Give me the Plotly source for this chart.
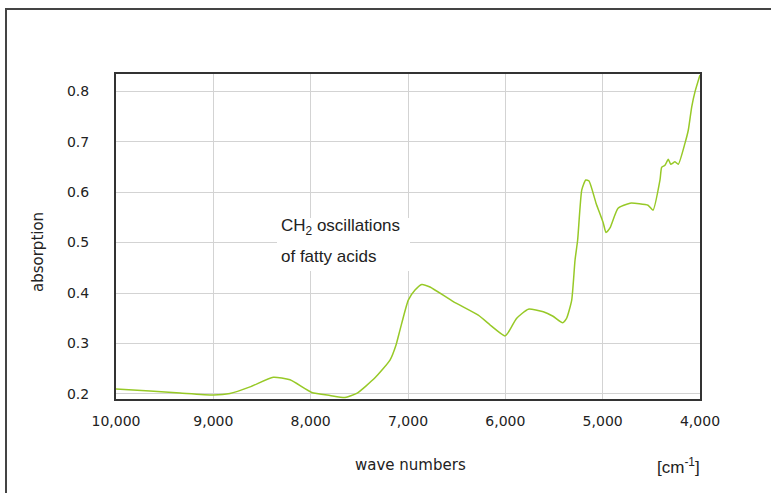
import plotly.graph_objects as go

wavenumbers = [10000, 9651, 9342, 9000, 8829, 8623, 8384, 8212, 7989, 7801, 7647, 7527,
               7339, 7185, 7123, 7082, 6997, 6928, 6859, 6774, 6535, 6278, 6158, 6055,
               6003, 5973, 5883, 5764, 5610, 5510, 5411, 5370, 5318, 5284, 5257, 5215,
               5174, 5140, 5068, 4994, 4966, 4925, 4842, 4719, 4534, 4483, 4411, 4394,
               4360, 4326, 4301, 4257, 4223, 4154, 4120, 4085, 4051, 4000]
absorption = [0.210, 0.206, 0.202, 0.198, 0.201, 0.214, 0.233, 0.228, 0.203, 0.197, 0.193, 0.201,
              0.232, 0.267, 0.297, 0.327, 0.386, 0.406, 0.417, 0.412, 0.383, 0.356, 0.337, 0.321,
              0.315, 0.321, 0.350, 0.368, 0.363, 0.354, 0.341, 0.350, 0.386, 0.465, 0.505, 0.604,
              0.624, 0.622, 0.578, 0.539, 0.520, 0.529, 0.568, 0.578, 0.574, 0.564, 0.624, 0.649,
              0.653, 0.665, 0.655, 0.660, 0.655, 0.697, 0.723, 0.769, 0.799, 0.832]

x_ticks = [10000, 9000, 8000, 7000, 6000, 5000, 4000]
x_tick_labels = ["10,000", "9,000", "8,000", "7,000", "6,000", "5,000", "4,000"]
y_ticks = [0.2, 0.3, 0.4, 0.5, 0.6, 0.7, 0.8]
y_tick_labels = ["0.2", "0.3", "0.4", "0.5", "0.6", "0.7", "0.8"]

W, H = 771, 493
L, R, T, B = 116, 71, 74, 94

fig = go.Figure()
fig.add_trace(go.Scatter(x=wavenumbers, y=absorption, mode="lines",
                         line=dict(color="#97C927", width=1.5, shape="spline", smoothing=0.5),
                         hoverinfo="skip", showlegend=False))

tickfont = dict(family="DejaVu Sans, Verdana, sans-serif", size=14, color="#222")
fig.update_xaxes(range=[10000, 4000], tickvals=x_ticks, ticktext=x_tick_labels,
                 showgrid=True, gridcolor="#d3d3d3", gridwidth=1,
                 showline=True, linecolor="#333", linewidth=2, mirror=True,
                 ticks="", ticklabelstandoff=8, tickfont=tickfont, zeroline=False)
fig.update_yaxes(range=[0.19, 0.834], tickvals=y_ticks, ticktext=y_tick_labels,
                 showgrid=True, gridcolor="#d3d3d3", gridwidth=1,
                 showline=True, linecolor="#333", linewidth=2, mirror=True,
                 ticks="", ticklabelstandoff=22, tickfont=tickfont, zeroline=False)

def px(xp):
    return (xp - L) / (W - L - R)

def py(yp):
    return 1 - (yp - T) / (H - T - B)

annfont = dict(family="Liberation Sans, Arial, sans-serif", size=17, color="#222")
# white box behind annotation
fig.add_shape(type="rect", xref="paper", yref="paper",
              x0=px(277), x1=px(410), y0=py(271), y1=py(218),
              fillcolor="white", line=dict(width=0), layer="above")
fig.add_annotation(x=px(279), y=py(227), xref="paper", yref="paper", xanchor="left", yanchor="middle",
                   text="CH<sub>2</sub> oscillations", showarrow=False, font=annfont)
fig.add_annotation(x=px(279), y=py(256), xref="paper", yref="paper", xanchor="left", yanchor="middle",
                   text="of fatty acids", showarrow=False, font=annfont)

titlefont = dict(family="DejaVu Sans, Verdana, sans-serif", size=15, color="#222")
fig.add_annotation(x=px(38), y=py(252), xref="paper", yref="paper", textangle=-90,
                   xanchor="center", yanchor="middle",
                   text="absorption", showarrow=False, font=titlefont)
fig.add_annotation(x=px(410), y=py(465), xref="paper", yref="paper",
                   xanchor="center", yanchor="middle",
                   text="wave numbers", showarrow=False, font=titlefont)
fig.add_annotation(x=px(678), y=py(466), xref="paper", yref="paper",
                   xanchor="center", yanchor="middle",
                   text="[cm<sup>-1</sup>]", showarrow=False, font=annfont)

# outer frame
fig.add_shape(type="rect", xref="paper", yref="paper",
              x0=px(6), x1=px(800), y0=py(520), y1=py(9),
              line=dict(color="#444", width=2), fillcolor="rgba(0,0,0,0)")

fig.update_layout(width=W, height=H, margin=dict(l=L, r=R, t=T, b=B),
                  plot_bgcolor="white", paper_bgcolor="white")

fig.write_html("out.html", config={"displayModeBar": False},
               post_script="document.body.style.margin='0';document.body.style.overflow='hidden';")
